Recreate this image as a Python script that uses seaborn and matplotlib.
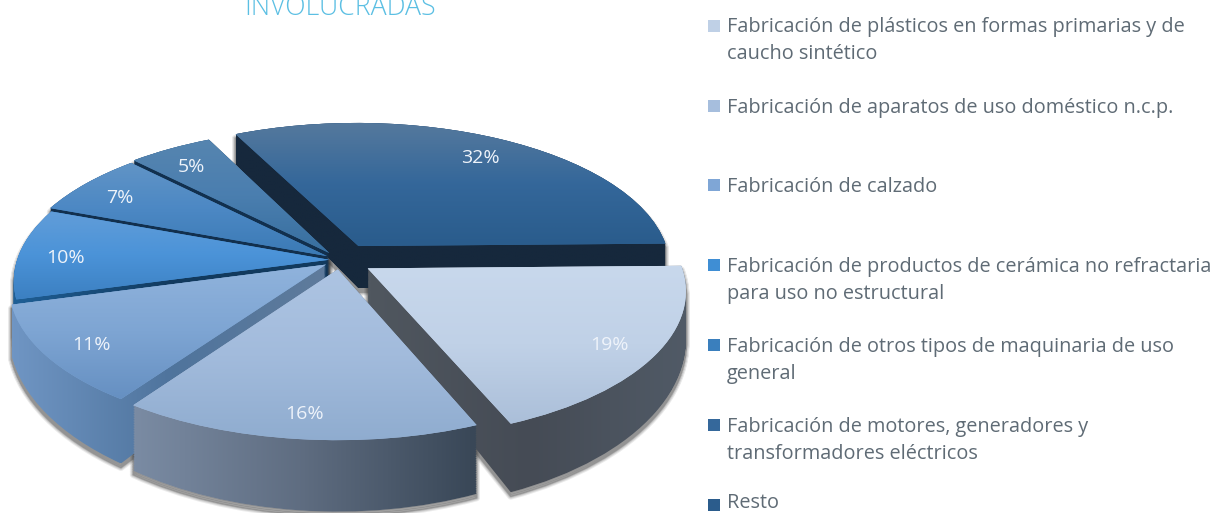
import numpy as np
import matplotlib
matplotlib.use("Agg")
import matplotlib.pyplot as plt
from matplotlib.patches import PathPatch
from matplotlib.path import Path
from matplotlib.transforms import Transform, Affine2D
import seaborn as sns

title = "INVOLUCRADAS"
categories = [
    "Fabricación de plásticos en formas primarias y de\ncaucho sintético",
    "Fabricación de aparatos de uso doméstico n.c.p.",
    "Fabricación de calzado",
    "Fabricación de productos de cerámica no refractaria\npara uso no estructural",
    "Fabricación de otros tipos de maquinaria de uso\ngeneral",
    "Fabricación de motores, generadores y\ntransformadores eléctricos",
    "Resto",
]
values = [19, 16, 11, 10, 7, 5, 32]
explode = [0.105, 0.065, 0.055, 0.035, 0.05, 0.06, 0.115]
legend_colors = ["#bfd0e6", "#a6bedd", "#7fa6d6", "#3f8ed4", "#3a7fbd", "#35689b", "#2b5c8c"]
top_colors = [
    ["#c8d8ec", "#c0d1e7", "#abbfd9"],
    ["#adc4e2", "#a2bbdc", "#8faccf"],
    ["#90b3dc", "#7ea5d3", "#6690c2"],
    ["#619dd8", "#4b93d8", "#3c80c2"],
    ["#6194c6", "#4c88c4", "#3b7ab5"],
    ["#5685b0", "#4a7eaf", "#386f9f"],
    ["#55799d", "#34679a", "#2a5c8c"],
]
side_colors = [
    ["#50575f", "#454b55", "#515b67"],
    ["#7a8ba3", "#5e6c80", "#394757"],
    ["#6f95c3", "#4f749d", "#5f7b9b"],
    ["#1f5f96", "#123a5e", "#123a5e"],
    ["#12304e", "#12304e", "#12304e"],
    ["#12304e", "#12304e", "#12304e"],
    ["#16283c", "#16283c", "#16283c"],
]
draw_order = [6, 5, 4, 3, 2, 0, 1]

# Projection of the unit pie onto the picture
CX, CY, RX, RY, K, DEPTH = 340.0, 260.0, 312.0, 144.0, 0.14, 44.0


class Projection(Transform):
    input_dims = 2
    output_dims = 2
    is_separable = False
    has_inverse = False

    def __init__(self, z=0.0):
        super().__init__()
        self.z = z

    def transform_non_affine(self, values):
        v = np.atleast_2d(values)
        w = 1 + K * v[:, 1]
        return np.column_stack([CX + RX * v[:, 0] / w,
                                CY - RY * v[:, 1] / w + self.z * DEPTH / w ** 3])


sns.set_theme(style="white")
plt.rcParams["font.family"] = ["Open Sans", "DejaVu Sans"]

fig = plt.figure(figsize=(12.15, 5.13), dpi=100, facecolor="white")
ax = fig.add_axes([0, 0, 1, 1])

wedges, _, autotexts = ax.pie(
    values, explode=explode, startangle=1, counterclock=False,
    autopct="%.0f%%", pctdistance=0.85, radius=1,
    textprops={"color": "#eef3fa", "fontsize": 14},
)
ax.set_aspect("auto")
ax.set_xlim(0, 1215)
ax.set_ylim(513, 0)
ax.axis("off")

flat = Projection(0.0)
layers = np.linspace(0, 1, 40)


def gradient(stops, vertical):
    rgb = np.array(sns.blend_palette(stops, 64, as_cmap=False))
    return rgb[:, None, :] if vertical else rgb[None, :, :]


def painted(path, stops, vertical, zorder):
    x0, y0 = path.vertices.min(axis=0)
    x1, y1 = path.vertices.max(axis=0)
    im = ax.imshow(gradient(stops, vertical), extent=(x0, x1, y1, y0), origin="upper",
                   aspect="auto", interpolation="bilinear", zorder=zorder)
    im.set_clip_path(path, ax.transData)


base = 10
for i in draw_order:
    wedge = wedges[i]
    unit = wedge.get_path().transformed(wedge.get_patch_transform())
    body = Path.make_compound_path(*[Projection(z).transform_path(unit) for z in layers])
    for lw, a in [(5, 0.10), (3.5, 0.14), (2, 0.2), (1, 0.25)]:
        ax.add_patch(PathPatch(body, facecolor="none", edgecolor="#3a3a3a", lw=lw, alpha=a,
                               transform=Affine2D().translate(0, 4) + ax.transData,
                               joinstyle="round", zorder=1))
    painted(body, side_colors[i], False, base)
    wedge.set_transform(flat + ax.transData)
    wedge.set_facecolor(top_colors[i][1])
    wedge.set_edgecolor("none")
    wedge.set_zorder(base + 1)
    painted(flat.transform_path(unit), top_colors[i], True, base + 2)
    base += 3

for t in autotexts:
    t.set_transform(flat + Affine2D().translate(0, 4) + ax.transData)
    t.set_zorder(100)

ax.text(340, 15, title, ha="center", va="baseline", color="#5bbfe3",
        fontsize=19.2, fontweight="light", zorder=100)

legend_tops = [17, 98, 177, 257, 337, 417, 493]
legend_mark_y = [26, 106, 185, 265, 345, 425, 505]
ax.scatter([714] * 7, legend_mark_y, marker="s", s=75, c=legend_colors, linewidths=0, zorder=100)
for label, y in zip(categories, legend_tops):
    ax.text(727, y, label, ha="left", va="top", color="#5f6b75", fontsize=14.3,
            linespacing=1.45, zorder=100)

fig.savefig("out.png", dpi=100, facecolor="white")
